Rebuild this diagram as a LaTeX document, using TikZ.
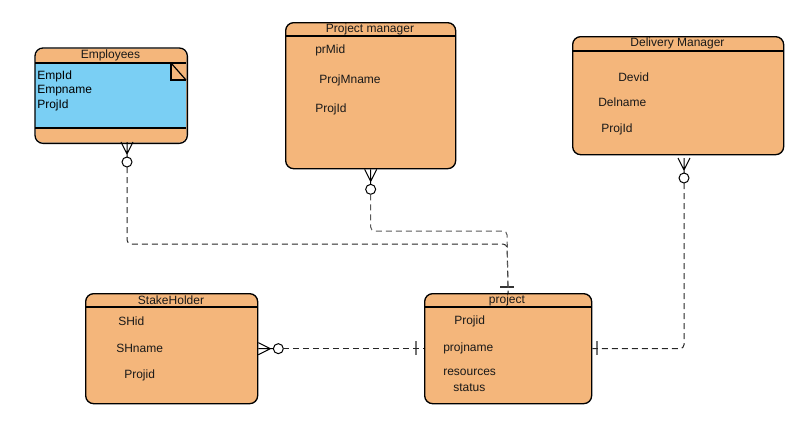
\documentclass[tikz,border=0pt]{standalone}
\usepackage{fontspec}
\setmainfont{Liberation Sans}
\usetikzlibrary{calc}
\definecolor{entfill}{HTML}{F4B67B}
\definecolor{notefill}{HTML}{7ACFF4}
\begin{document}
\begin{tikzpicture}[x=0.75pt,y=-0.75pt,
  entity/.style={rectangle, rounded corners=6pt, fill=entfill, draw=black, line width=1pt, inner sep=0pt, anchor=north west},
  hdr/.style={line width=1pt},
  title/.style={font=\fontsize{9}{10}\selectfont, text=black!90, inner sep=0pt},
  attr/.style={font=\fontsize{9}{10}\selectfont, text=black!90, inner sep=0pt, anchor=west},
  rel/.style={line width=0.75pt, dash pattern=on 4.5pt off 3pt, rounded corners=3pt, draw=black!85},
  crowline/.style={line width=0.75pt, draw=black},
  manyopt/.pic={
    \draw[crowline] (-6,0) -- (0,12) -- (6,0) (0,0) -- (0,15);
    \draw[crowline, fill=white] (0,20) circle[radius=3.75pt];
    \coordinate (-tail) at (0,25);
  },
  onebar/.pic={\draw[line width=1pt] (-7,0) -- (7,0);}
]
\useasboundingbox (0,0) rectangle (801,433);

% ---------- Employees (with note section) ----------
\node[entity, draw=none, minimum width=151*0.75pt, minimum height=94*0.75pt] (emp) at (35,48) {};
\fill[notefill] (35,63) rectangle (186,128);
\fill[entfill] (171,63) rectangle (186,80);
\draw[line width=0.9pt] (171,63) -- (171,80) -- (186,80);
\draw[line width=0.9pt] (171,63) -- (186,80);
\draw[hdr] (35,63) -- (186,63);
\draw[hdr] (35,128) -- (186,128);
\draw[line width=1pt, rounded corners=6pt] (emp.north west) rectangle (emp.south east);
\node[title] (emp-t) at (110.5,55) {Employees};
\node[attr, text=black] (emp-a1) at (37,76) {EmpId};
\node[attr, text=black] (emp-a2) at (37,91) {Empname};
\node[attr, text=black] (emp-a3) at (37,105) {ProjId};

% ---------- Project manager ----------
\node[entity, minimum width=170*0.75pt, minimum height=146*0.75pt] (pm) at (285,22) {};
\draw[hdr] (285,36) -- (455,36);
\node[title] (pm-t) at (370,29) {Project manager};
\node[attr] (pm-a1) at (315,50) {prMid};
\node[attr] (pm-a2) at (319,80) {ProjMname};
\node[attr] (pm-a3) at (315,109) {ProjId};

% ---------- Delivery Manager ----------
\node[entity, minimum width=211*0.75pt, minimum height=118*0.75pt] (dm) at (572,36) {};
\draw[hdr] (572,51) -- (783,51);
\node[title] (dm-t) at (677.5,43) {Delivery Manager};
\node[attr] (dm-a1) at (618,77) {Devid};
\node[attr] (dm-a2) at (598,102) {Delname};
\node[attr] (dm-a3) at (601,129) {ProjId};

% ---------- StakeHolder ----------
\node[entity, minimum width=172*0.75pt, minimum height=110*0.75pt] (sh) at (85,293) {};
\draw[hdr] (85,307) -- (257,307);
\node[title] (sh-t) at (171,300) {StakeHolder};
\node[attr] (sh-a1) at (118,321) {SHid};
\node[attr] (sh-a2) at (116,348) {SHname};
\node[attr] (sh-a3) at (124,375) {Projid};

% ---------- project ----------
\node[entity, minimum width=167*0.75pt, minimum height=110*0.75pt] (prj) at (424,293) {};
\draw[hdr] (424,307) -- (591,307);
\node[title] (prj-t) at (507,300) {project};
\node[attr] (prj-a1) at (454,321) {Projid};
\node[attr] (prj-a2) at (443,348) {projname};
\node[attr] (prj-a3) at (443,372) {resources};
\node[attr] (prj-a4) at (453,388) {status};

% ---------- cardinality marks ----------
\pic (empc) at (127,142) {manyopt};
\pic (pmc) at (pm.south) {manyopt};
\pic (dmc) at (684,158) {manyopt};
\pic[rotate=90] (shc) at (sh.east) {manyopt};
\pic[draw=black!80] at (507,287) {onebar};
\pic[draw=black!55, rotate=90] at (416,348) {onebar};
\pic[draw=black!55, rotate=90] at (597,348) {onebar};

% ---------- relationships ----------
\coordinate (j1) at (507,244);
\coordinate (j2) at (507,231);
\draw[rel] (empc-tail) |- (j1) -- (prj.north);
\draw[rel, draw=black!65] (pmc-tail) |- (j2) -- (prj.north);
\draw[rel] (dmc-tail) |- (prj.east);
\draw[rel] (shc-tail) -- (prj.west);
\end{tikzpicture}
\end{document}
